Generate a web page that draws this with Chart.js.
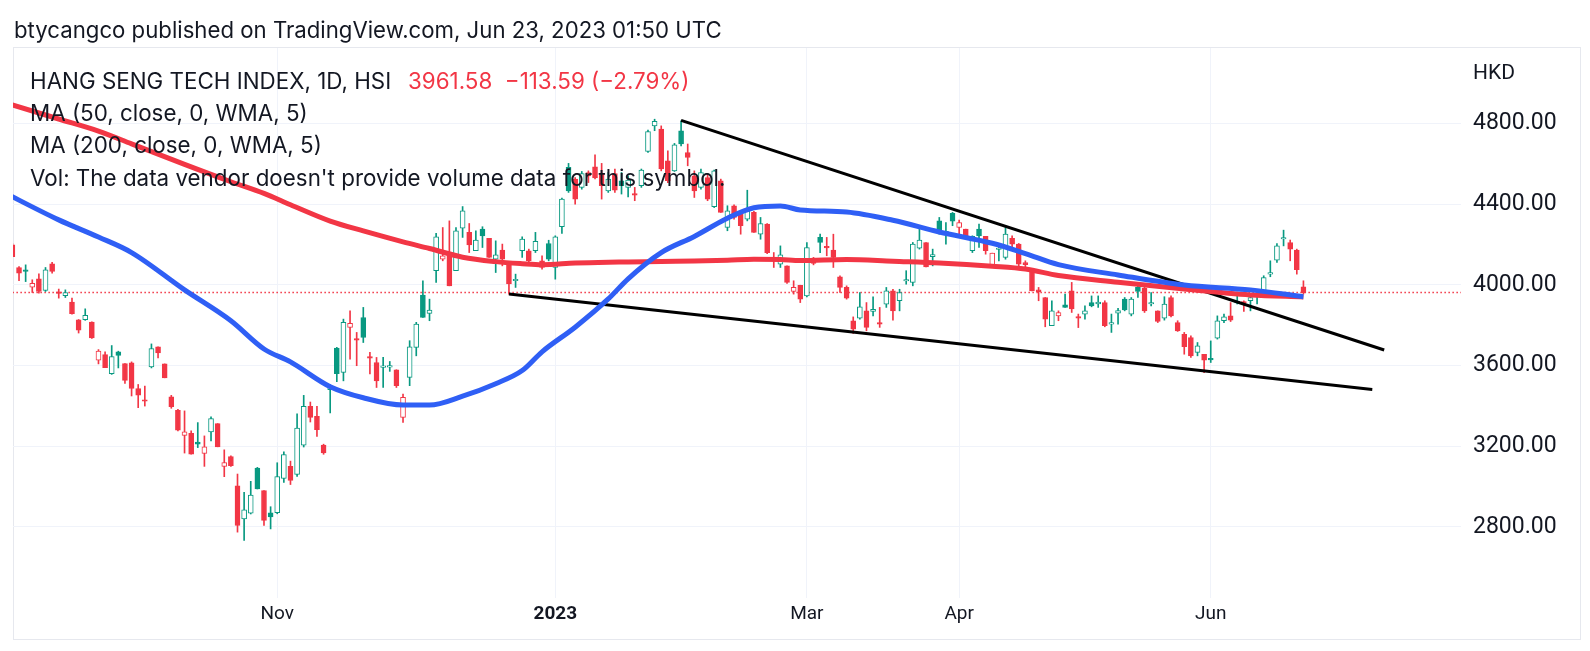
<!DOCTYPE html>
<html>
<head>
<meta charset="utf-8">
<script src="https://cdn.jsdelivr.net/npm/chart.js@4.4.0/dist/chart.umd.min.js"></script>
<style>
  html, body { margin: 0; padding: 0; background: #fff; }
  canvas { display: block; }
</style>
</head>
<body>
<canvas id="tvChart" width="1590" height="651"></canvas>
<script>
// daily bars, Sep 2 2022 .. Jun 21 2023 (index = bar number)
const openP = [4198,4086,4074,3988,4030,3972,4104,3964,3946,3914,3826,
  3827,3815,3626,3654,3559,3668,3610,3613,3486,3428,
  3593,3692,3608,3445,3378,3254,3264,3221,3164,3271,
  3312,3100,3149,3004,2840,2868,3092,2980,2870,2870,
  3040,3100,3060,3205,3398,3348,3205,3480,3686,3566,
  3789,3731,3838,3643,3615,3591,3592,3579,3343,3541,
  3690,3949,3858,4070,4127,4160,4070,4281,4260,4169,
  4276,4231,4127,4172,4103,4020,4169,4169,4169,4119,
  4205,4086,4288,4582,4524,4483,4557,4585,4552,4466,
  4552,4516,4483,4450,4491,4661,4788,4772,4615,4565,
  4764,4656,4540,4483,4532,4387,4516,4284,4392,4350,
  4326,4359,4251,4301,4127,4102,4094,3967,3998,3945,
  4127,4235,4190,4172,4040,3987,3822,3835,3871,3868,
  3810,3904,3970,3921,4019,4012,4182,4210,4140,4317,
  4255,4354,4284,4276,4169,4276,4240,4094,4175,4136,
  4230,4202,4110,4070,3975,3937,3797,3846,3901,3970,
  3840,3855,3912,3905,3912,3805,3860,3929,3855,3987,
  3983,3905,3871,3835,3937,3813,3755,3739,3665,3656,
  3635,3736,3822,3846,3910,3915,3921,3940,3954,4053,
  4122,4227,4210,4172,3990];
const highP = [4205,4090,4099,4025,4054,4086,4112,3979,3975,3934,3828,
  3881,3816,3679,3668,3699,3671,3610,3618,3506,3498,
  3707,3692,3608,3452,3383,3375,3276,3317,3251,3345,
  3312,3182,3152,3062,2971,3026,3095,2980,2900,3118,
  3172,3126,3360,3452,3419,3398,3210,3505,3690,3830,
  3871,3764,3888,3665,3640,3640,3620,3579,3458,3723,
  3814,4020,3929,4255,4284,4317,4284,4388,4304,4268,
  4288,4231,4218,4202,4103,4053,4238,4177,4260,4144,
  4221,4243,4430,4602,4532,4562,4565,4645,4602,4557,
  4574,4557,4540,4483,4574,4767,4821,4788,4664,4701,
  4813,4698,4565,4574,4549,4569,4524,4392,4397,4354,
  4469,4364,4334,4304,4160,4193,4094,4020,3998,4210,
  4136,4251,4235,4251,4045,3995,3841,3962,3912,3940,
  3888,3987,3978,3978,4070,4210,4288,4210,4177,4334,
  4309,4359,4321,4276,4243,4301,4240,4157,4193,4284,
  4243,4205,4119,4078,3987,3937,3921,3871,3954,4012,
  3855,3896,3945,3945,3921,3855,3884,3937,3937,3995,
  3990,3962,3871,3941,3945,3822,3764,3747,3714,3656,
  3722,3846,3855,3912,3954,3921,3945,3954,4045,4119,
  4205,4271,4222,4177,4020];
const lowP = [4140,4020,4016,3962,3959,3967,4058,3934,3937,3855,3761,
  3824,3734,3608,3589,3556,3588,3511,3449,3391,3399,
  3588,3638,3539,3388,3276,3166,3161,3193,3100,3226,
  3197,3049,3100,2774,2733,2864,2988,2807,2790,2865,
  3020,3010,3050,3196,3320,3249,3160,3365,3520,3524,
  3632,3599,3714,3558,3491,3491,3571,3491,3318,3500,
  3648,3838,3822,4012,4119,3995,4070,4235,4160,4169,
  4185,4136,4061,4094,3954,3987,4136,4103,4160,4078,
  4119,4028,4255,4458,4400,4474,4507,4525,4425,4458,
  4458,4450,4436,4417,4483,4656,4764,4565,4507,4562,
  4689,4590,4433,4474,4417,4383,4359,4268,4326,4251,
  4317,4260,4226,4155,4086,4086,4007,3954,3912,3940,
  4099,4160,4144,4086,3962,3929,3759,3830,3772,3846,
  3789,3888,3825,3871,4003,3995,4177,4089,4094,4251,
  4202,4293,4235,4235,4160,4185,4152,4089,4119,4127,
  4185,4094,4086,3970,3921,3792,3797,3822,3888,3863,
  3788,3830,3891,3888,3792,3764,3805,3871,3846,3937,
  3863,3896,3813,3825,3841,3769,3656,3640,3648,3565,
  3615,3731,3813,3818,3905,3868,3871,3905,3949,4040,
  4111,4193,4119,4053,3954];
const closeP = [4140,4058,4066,4008,3967,4074,4066,3958,3962,3857,3775,
  3849,3737,3671,3589,3644,3650,3526,3486,3453,3423,
  3684,3663,3539,3396,3279,3271,3161,3210,3197,3337,
  3197,3119,3103,2807,2884,2958,2988,2832,2850,3050,
  3159,3030,3290,3398,3343,3282,3167,3495,3560,3814,
  3809,3726,3739,3637,3524,3597,3599,3500,3442,3693,
  3805,3838,3875,4238,4144,3995,4268,4367,4198,4222,
  4243,4136,4149,4127,4004,4027,4227,4119,4215,4086,
  4127,4238,4425,4466,4425,4552,4540,4530,4491,4524,
  4469,4491,4519,4445,4569,4760,4810,4574,4516,4694,
  4698,4631,4466,4557,4425,4565,4359,4367,4334,4293,
  4367,4260,4304,4160,4122,4149,4012,3987,3929,4185,
  4106,4210,4183,4136,3987,3934,3780,3891,3789,3878,
  3805,3970,3871,3962,4022,4202,4222,4089,4150,4260,
  4265,4315,4309,4235,4240,4243,4169,4157,4180,4251,
  4202,4103,4100,3970,3966,3830,3871,3863,3888,3880,
  3835,3871,3896,3915,3797,3813,3872,3876,3929,3967,
  3871,3910,3818,3904,3846,3772,3693,3648,3698,3626,
  3628,3822,3841,3825,3918,3910,3937,3946,4036,4058,
  4193,4233,4177,4075.17,3961.58];

// moving averages at these bar numbers
const maIdx = [-2,7,13,18,26,33,38,42,48,53,59,63,68,73,77,80,85,90,93,98,103,108,112,116,119,126,133,140,148,153,158,167,177,187,195];
const ma50 = [4470,4322,4237,4160,3975,3822,3682,3618,3495,3440,3404,3404,3448,3510,3575,3668,3790,3930,4030,4160,4240,4330,4382,4391,4371,4361,4320,4262,4206,4155,4100,4049,3999,3975,3941];
const ma200 = [4912,4822,4762,4699,4597,4511,4453,4397,4316,4267,4213,4180,4137,4115,4105,4100,4108,4112,4113,4116,4118,4122,4127,4125,4120,4126,4117,4108,4092,4078,4046,4013,3979,3950,3940];

// hand drawn trend lines [bar, price]
const upperTrend = [[101, 4815], [207.2, 3677]];
const lowerTrend = [[75, 3955], [205.4, 3481]];

const lastPrice = 3961.58;
const monthIdx = [40, 82, 120, 143, 181];
const monthText = ['Nov', '2023', 'Mar', 'Apr', 'Jun'];
const priceTicks = [2800, 3200, 3600, 4000, 4400, 4800];

const upCol = '#089981';
const downCol = '#F23645';
const textCol = '#131722';
const gridCol = '#f0f3fa';

let candleCol = closeP.map((c, k) => {
  let ref = k === 0 ? openP[k] : closeP[k - 1];
  return c >= ref ? upCol : downCol;
});
let bodyFill = closeP.map((c, k) => c > openP[k] ? '#ffffff' : candleCol[k]);

let wickData = highP.map((h, k) => ({ x: k, y: [lowP[k], h] }));
let bodyData = openP.map((o, k) => ({ x: k, y: [Math.min(o, closeP[k]), Math.max(o, closeP[k])] }));

function fitSize(ctx, text, target, family, weight) {
  ctx.font = weight + ' 20px ' + family;
  return 20 * target / ctx.measureText(text).width;
}

const overlay = {
  id: 'overlay',
  beforeDraw(chart) {
    const ctx = chart.ctx;
    ctx.save();
    ctx.fillStyle = '#ffffff';
    ctx.fillRect(0, 0, chart.width, chart.height);
    ctx.strokeStyle = '#e6e8ee';
    ctx.lineWidth = 1;
    ctx.strokeRect(13.5, 47.5, 1567, 592);
    ctx.restore();
  },
  afterDraw(chart) {
    const ctx = chart.ctx;
    const fam = 'Inter, "Noto Sans", sans-serif';
    ctx.save();
    ctx.textBaseline = 'middle';
    ctx.textAlign = 'left';
    ctx.fillStyle = textCol;

    let head = 'btycangco published on TradingView.com, Jun 23, 2023 01:50 UTC';
    let hs = fitSize(ctx, head, 708, fam, 'normal');
    ctx.font = hs + 'px ' + fam;
    ctx.fillText(head, 14, 31);

    let vol = "Vol: The data vendor doesn't provide volume data for this symbol.";
    let ls = fitSize(ctx, vol, 696, fam, 'normal');
    ctx.font = ls + 'px ' + fam;
    ctx.fillText('HANG SENG TECH INDEX, 1D, HSI', 30, 82);
    ctx.fillText('MA (50, close, 0, WMA, 5)', 30, 114);
    ctx.fillText('MA (200, close, 0, WMA, 5)', 30, 146);
    ctx.fillText(vol, 30, 179);
    ctx.fillStyle = downCol;
    ctx.fillText('3961.58  \u2212113.59 (\u22122.79%)', 408, 82);

    ctx.fillStyle = textCol;
    ctx.font = '21px Roboto';
    ctx.fillText('HKD', 1473, 74);
    ctx.restore();
  }
};

new Chart(document.getElementById('tvChart'), {
  type: 'bar',
  data: {
    datasets: [
      {
        type: 'line',
        data: maIdx.map((x, j) => ({ x: x, y: ma50[j] })),
        borderColor: '#2f5ff5',
        borderWidth: 5,
        pointRadius: 0,
        cubicInterpolationMode: 'monotone',
        order: 0,
        clip: 0
      },
      {
        type: 'line',
        data: maIdx.map((x, j) => ({ x: x, y: ma200[j] })),
        borderColor: '#f23645',
        borderWidth: 5,
        pointRadius: 0,
        cubicInterpolationMode: 'monotone',
        order: 1,
        clip: 0
      },
      {
        type: 'line',
        data: upperTrend.map(p => ({ x: p[0], y: p[1] })),
        borderColor: '#000000',
        borderWidth: 3,
        pointRadius: 0,
        order: 2
      },
      {
        type: 'line',
        data: lowerTrend.map(p => ({ x: p[0], y: p[1] })),
        borderColor: '#000000',
        borderWidth: 3,
        pointRadius: 0,
        order: 2
      },
      {
        data: bodyData,
        backgroundColor: bodyFill,
        borderColor: candleCol,
        borderWidth: 1,
        borderSkipped: false,
        barThickness: 5,
        minBarLength: 1.5,
        grouped: false,
        order: 3,
        clip: 0
      },
      {
        data: wickData,
        backgroundColor: candleCol,
        barThickness: 1,
        grouped: false,
        order: 4,
        clip: 0
      },
      {
        type: 'line',
        data: [{ x: 0, y: lastPrice }, { x: 219, y: lastPrice }],
        borderColor: downCol,
        borderWidth: 1.5,
        borderDash: [1.5, 2.5],
        pointRadius: 0,
        order: 5
      }
    ]
  },
  options: {
    responsive: false,
    animation: false,
    devicePixelRatio: 1,
    events: [],
    layout: { padding: { top: 48, left: 13, right: 0, bottom: 0 } },
    plugins: { legend: { display: false }, tooltip: { enabled: false } },
    scales: {
      x: {
        type: 'linear',
        min: 0.09,
        max: 218.8,
        offset: false,
        afterFit: s => { s.height = 53; },
        afterBuildTicks: s => { s.ticks = monthIdx.map(v => ({ value: v })); },
        grid: { color: gridCol, drawTicks: false, offset: false },
        border: { display: false },
        ticks: {
          autoSkip: false,
          maxRotation: 0,
          padding: 5,
          color: textCol,
          font: c => ({ family: 'Roboto', size: 19, weight: c.tick && c.tick.value === 82 ? 'bold' : 'normal' }),
          callback: v => monthText[monthIdx.indexOf(v)]
        }
      },
      y: {
        type: 'linear',
        position: 'right',
        min: 2447.5,
        max: 5174,
        afterFit: s => { s.width = 129; },
        afterBuildTicks: s => { s.ticks = priceTicks.map(v => ({ value: v })); },
        grid: { color: gridCol, drawTicks: false },
        border: { display: false },
        ticks: {
          padding: 12,
          color: textCol,
          font: { family: 'Roboto', size: 23 },
          callback: v => v.toFixed(2)
        }
      }
    }
  },
  plugins: [overlay]
});
</script>
</body>
</html>
